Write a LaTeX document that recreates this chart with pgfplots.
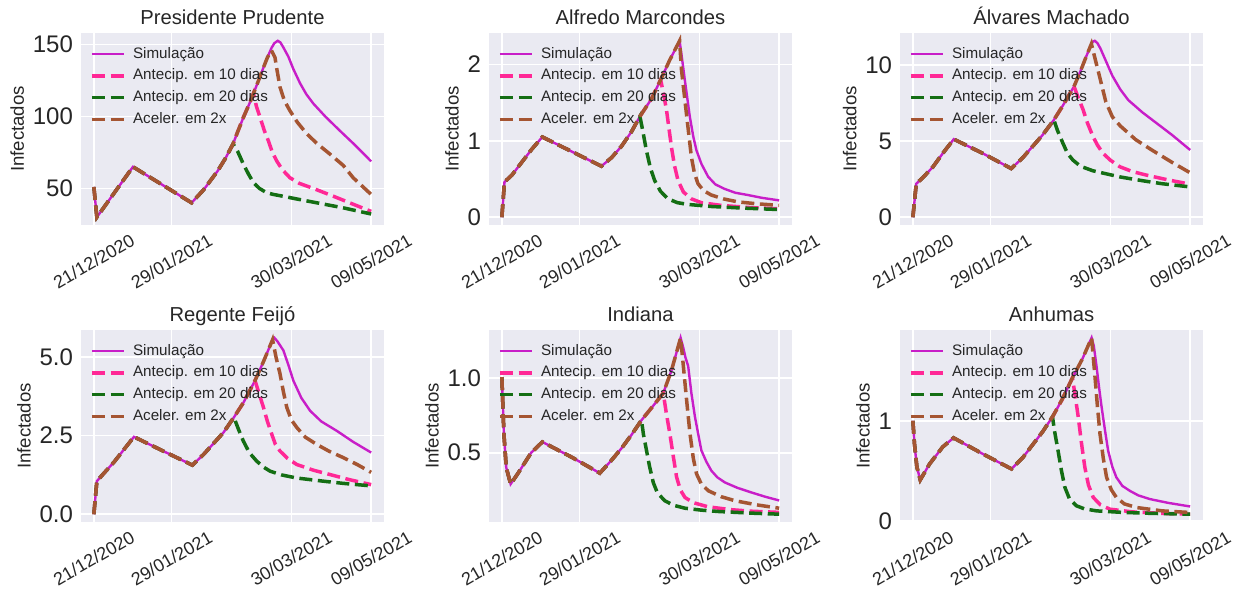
\documentclass[border=0pt]{standalone}
\usepackage{fontspec}
\setmainfont{Liberation Sans}
\usepackage{graphicx}
\usepackage{pgfplots}
\pgfplotsset{compat=1.18}

\definecolor{bgc}{HTML}{EAEAF2}
\definecolor{tc}{HTML}{262626}
\definecolor{simc}{RGB}{200,30,200}
\definecolor{pinkc}{RGB}{255,40,150}
\definecolor{greenc}{RGB}{20,110,20}
\definecolor{brownc}{RGB}{165,85,50}

\pgfplotsset{
  every axis title shift=0pt,
  panel/.style={
    scale only axis, width=152.5pt, height=97pt,
    anchor=north west,
    xmin=-6.95, xmax=145.95, enlarge y limits=0.05,
    xtick={0,39,99,139},
    xticklabels={\rotatebox{30}{21/12/2020},\rotatebox{30}{29/01/2021},\rotatebox{30}{30/03/2021},\rotatebox{30}{09/05/2021}},
    xticklabel style={anchor=north, font=\fontsize{9}{10}\selectfont, text=tc},
    yticklabel style={font=\fontsize{12}{13}\selectfont, text=tc},
    /pgf/number format/assume math mode=true,
    ylabel={Infectados}, ylabel style={font=\fontsize{9.3}{10}\selectfont, text=tc, yshift=-2.5pt},
    title style={font=\fontsize{10.1}{12}\selectfont, text=tc, anchor=base, yshift=3.6pt},
    axis background/.style={fill=bgc},
    grid=major, major grid style={white, line width=0.8pt},
    axis line style={white, line width=0.6pt},
    major tick length=0pt, tick style={draw=none},
    legend style={at={(0.032,0.945)}, anchor=north west, draw=none, fill=none,
      inner sep=0pt, font=\fontsize{7.6}{9}\selectfont, text=tc,
      nodes={text height=5.8pt, text depth=1.7pt, inner sep=1.7pt},
      column sep=2pt},
    legend cell align=left,
    legend image code/.code={\draw[##1] (0pt,0pt) -- (16pt,0pt);},
  },
  sim/.style={simc, line width=1.2pt},
  a10/.style={pinkc, line width=1.75pt, dash pattern=on 6.5pt off 2.8pt},
  a20/.style={greenc, line width=1.75pt, dash pattern=on 6.5pt off 2.8pt},
  acc/.style={brownc, line width=1.75pt, dash pattern=on 6.5pt off 2.8pt},
}

\begin{document}
\begin{tikzpicture}
\path[use as bounding box] (0,0) rectangle (620pt,-296pt);

% Presidente Prudente
\begin{axis}[panel, at={(40pt,-16pt)}, title={Presidente Prudente}, ytick={50,100,150}]
\addplot[sim] coordinates {(0,51) (1.5,30) (19.6,65) (49,40) (55,49) (62,62) (66,71) (69.8,81) (72,89) (75,99.5) (78,109) (80,116) (82,123) (85,134) (87,141) (89,147.5) (90.5,151) (92.2,152.6) (93.5,151.5) (95,148) (97.5,141.6) (100,133) (103.4,123) (106.5,115.5) (110,109) (116,100) (123.4,90) (131,80) (139,68.8)};
\addlegendentry{Simulação}
\addplot[a10] coordinates {(0,51) (1.5,30) (19.6,65) (49,40) (55,49) (62,62) (66,71) (69.8,81) (72,89) (75,99.5) (78,109) (80,116) (81.5,107) (83.3,99.5) (85.5,90) (87.5,83) (89.5,75) (91.7,69) (94.5,63) (98.3,57.4) (103,53.5) (110,50) (120,44.6) (130,39) (139,34)};
\addlegendentry{Antecip. em 10 dias}
\addplot[a20] coordinates {(0,51) (1.5,30) (19.6,65) (49,40) (55,49) (62,62) (66,71) (69.8,81) (72,76) (74.9,67) (77.5,60) (80,54) (83,50) (86.6,47) (90,45.8) (95,44.5) (103,42.3) (111.7,40) (125,36.5) (139,32.2)};
\addlegendentry{Antecip. em 20 dias}
\addplot[acc] coordinates {(0,51) (1.5,30) (19.6,65) (49,40) (55,49) (62,62) (66,71) (69.8,81) (72,89) (75,99.5) (78,109) (80,116) (82,123) (85,134) (87,141) (89,146) (90.8,141) (91.6,134) (93.3,120.5) (95.5,111) (98.3,104) (102,96) (106.7,88) (112,81) (118.4,73.8) (125,66) (130,57.4) (139,45.8)};
\addlegendentry{Aceler. em 2x}
\end{axis}

% Alfredo Marcondes
\begin{axis}[panel, at={(244pt,-16pt)}, title={Alfredo Marcondes}, ytick={0,1,2}]
\addplot[sim] coordinates {(0,0) (1.3,0.46) (5,0.55) (10,0.72) (15,0.89) (20.3,1.05) (35,0.86) (49.9,0.668) (55,0.78) (60,0.93) (65,1.12) (69.2,1.32) (75,1.55) (79.6,1.80) (84,2.05) (89.1,2.31) (90.3,2.08) (91.7,1.80) (94.2,1.32) (96,1.05) (97.5,0.88) (100,0.70) (103.4,0.53) (107,0.43) (111.7,0.37) (117,0.32) (123.4,0.29) (130,0.255) (139,0.22)};
\addlegendentry{Simulação}
\addplot[a10] coordinates {(0,0) (1.3,0.46) (5,0.55) (10,0.72) (15,0.89) (20.3,1.05) (35,0.86) (49.9,0.668) (55,0.78) (60,0.93) (65,1.12) (69.2,1.32) (75,1.55) (79.6,1.80) (81,1.62) (82.5,1.41) (85,0.92) (86.5,0.68) (88.3,0.48) (91,0.33) (95,0.24) (100,0.19) (110,0.154) (125,0.125) (139,0.11)};
\addlegendentry{Antecip. em 10 dias}
\addplot[a20] coordinates {(0,0) (1.3,0.46) (5,0.55) (10,0.72) (15,0.89) (20.3,1.05) (35,0.86) (49.9,0.668) (55,0.78) (60,0.93) (65,1.12) (69.2,1.32) (70.5,1.15) (72.4,0.88) (74.5,0.64) (76.6,0.48) (79.5,0.34) (83.3,0.24) (88,0.19) (93.3,0.167) (105,0.14) (120,0.12) (139,0.10)};
\addlegendentry{Antecip. em 20 dias}
\addplot[acc] coordinates {(0,0) (1.3,0.46) (5,0.55) (10,0.72) (15,0.89) (20.3,1.05) (35,0.86) (49.9,0.668) (55,0.78) (60,0.93) (65,1.12) (69.2,1.32) (75,1.55) (79.6,1.80) (84,2.05) (89.1,2.31) (90,1.94) (92.5,1.36) (95,0.79) (96.5,0.58) (98.3,0.44) (101,0.35) (105,0.29) (111,0.24) (118.4,0.20) (128,0.175) (139,0.155)};
\addlegendentry{Aceler. em 2x}
\end{axis}

% Alvares Machado
\begin{axis}[panel, at={(449.5pt,-16pt)}, title={Álvares Machado}, ytick={0,5,10}]
\addplot[sim] coordinates {(0,0) (1.7,2.2) (5,2.6) (10,3.3) (15,4.2) (20.5,5.13) (35,4.2) (49.3,3.2) (55,3.9) (60,4.65) (65,5.4) (70.7,6.4) (75,7.3) (80.8,8.6) (84,9.6) (87,10.6) (89.5,11.4) (90.3,11.55) (91.2,11.6) (92.5,11.45) (94,11.1) (96,10.5) (98,9.9) (100,9.3) (104,8.4) (108,7.7) (115,6.9) (122,6.2) (130,5.4) (139,4.42)};
\addlegendentry{Simulação}
\addplot[a10] coordinates {(0,0) (1.7,2.2) (5,2.6) (10,3.3) (15,4.2) (20.5,5.13) (35,4.2) (49.3,3.2) (55,3.9) (60,4.65) (65,5.4) (70.7,6.4) (75,7.3) (80.8,8.6) (82.5,8.0) (85.3,7.08) (87.5,6.2) (90.3,5.3) (92.5,4.75) (95.3,4.2) (99,3.75) (103.7,3.32) (110,3.0) (117,2.77) (128,2.45) (139,2.17)};
\addlegendentry{Antecip. em 10 dias}
\addplot[a20] coordinates {(0,0) (1.7,2.2) (5,2.6) (10,3.3) (15,4.2) (20.5,5.13) (35,4.2) (49.3,3.2) (55,3.9) (60,4.65) (65,5.4) (70.7,6.4) (72.5,5.7) (75.2,4.87) (77.5,4.2) (80.2,3.76) (84,3.35) (90.3,3.05) (97,2.85) (103.7,2.65) (115,2.4) (125,2.2) (139,1.99)};
\addlegendentry{Antecip. em 20 dias}
\addplot[acc] coordinates {(0,0) (1.7,2.2) (5,2.6) (10,3.3) (15,4.2) (20.5,5.13) (35,4.2) (49.3,3.2) (55,3.9) (60,4.65) (65,5.4) (70.7,6.4) (75,7.3) (80.8,8.6) (84,9.6) (87,10.6) (89.5,11.4) (91,10.6) (93.5,9.3) (96.7,7.6) (100,6.6) (104,6.0) (111.7,5.1) (120,4.4) (130,3.6) (139,2.92)};
\addlegendentry{Aceler. em 2x}
\end{axis}

% Regente Feijo
\begin{axis}[panel, at={(40pt,-164.5pt)}, title={Regente Feijó}, ytick={0,2.5,5},
  yticklabel style={/pgf/number format/.cd, fixed, fixed zerofill, precision=1}]
\addplot[sim] coordinates {(0,0) (1.5,1.05) (5,1.3) (10,1.65) (15,2.05) (20.1,2.46) (35,2.0) (49.4,1.56) (55,1.9) (60,2.25) (65,2.6) (70.2,3.08) (75,3.55) (80.8,4.25) (85,4.85) (89.6,5.55) (90.5,5.61) (92,5.5) (95,5.21) (97.5,4.75) (100,4.25) (104,3.7) (108.4,3.29) (114,2.95) (121.8,2.65) (130,2.3) (139,1.96)};
\addlegendentry{Simulação}
\addplot[a10] coordinates {(0,0) (1.5,1.05) (5,1.3) (10,1.65) (15,2.05) (20.1,2.46) (35,2.0) (49.4,1.56) (55,1.9) (60,2.25) (65,2.6) (70.2,3.08) (75,3.55) (80.8,4.25) (83,3.8) (85,3.40) (87,2.95) (89.2,2.54) (91,2.22) (93.3,2.01) (97,1.78) (101.7,1.58) (110,1.4) (118.4,1.26) (128,1.1) (139,0.94)};
\addlegendentry{Antecip. em 10 dias}
\addplot[a20] coordinates {(0,0) (1.5,1.05) (5,1.3) (10,1.65) (15,2.05) (20.1,2.46) (35,2.0) (49.4,1.56) (55,1.9) (60,2.25) (65,2.6) (70.2,3.08) (72.5,2.7) (74.9,2.33) (78,1.95) (81.6,1.69) (85,1.5) (88.3,1.37) (94,1.25) (101.7,1.15) (115,1.05) (125,0.98) (139,0.90)};
\addlegendentry{Antecip. em 20 dias}
\addplot[acc] coordinates {(0,0) (1.5,1.05) (5,1.3) (10,1.65) (15,2.05) (20.1,2.46) (35,2.0) (49.4,1.56) (55,1.9) (60,2.25) (65,2.6) (70.2,3.08) (75,3.55) (80.8,4.25) (85,4.85) (89.6,5.55) (91.3,5.0) (93.3,4.47) (95,3.9) (96.7,3.40) (99,3.0) (101.7,2.76) (106,2.45) (111.7,2.22) (118,2.0) (125,1.80) (132,1.58) (139,1.33)};
\addlegendentry{Aceler. em 2x}
\end{axis}

% Indiana
\begin{axis}[panel, at={(244pt,-164.5pt)}, title={Indiana}, ytick={0.5,1},
  yticklabel style={/pgf/number format/.cd, fixed, fixed zerofill, precision=1}]
\addplot[sim] coordinates {(0,1.007) (1,0.63) (2.2,0.40) (4.4,0.29) (8,0.36) (14.7,0.50) (20.3,0.572) (35,0.47) (49.1,0.363) (55,0.45) (60,0.53) (65,0.62) (70,0.718) (75,0.80) (80.9,0.899) (85,1.05) (89.6,1.27) (91,1.2) (92,1.14) (93.4,1.08) (95,0.90) (96.8,0.74) (98.5,0.62) (100,0.516) (102.5,0.44) (105,0.38) (108,0.335) (111.9,0.30) (118,0.265) (125,0.234) (132,0.205) (139,0.18)};
\addlegendentry{Simulação}
\addplot[a10] coordinates {(0,1.007) (1,0.63) (2.2,0.40) (4.4,0.29) (8,0.36) (14.7,0.50) (20.3,0.572) (35,0.47) (49.1,0.363) (55,0.45) (60,0.53) (65,0.62) (70,0.718) (75,0.80) (80.9,0.899) (82.5,0.76) (84.2,0.628) (86,0.47) (87.6,0.336) (89.5,0.25) (91.8,0.20) (96,0.165) (103.5,0.137) (115,0.118) (125,0.108) (139,0.10)};
\addlegendentry{Antecip. em 10 dias}
\addplot[a20] coordinates {(0,1.007) (1,0.63) (2.2,0.40) (4.4,0.29) (8,0.36) (14.7,0.50) (20.3,0.572) (35,0.47) (49.1,0.363) (55,0.45) (60,0.53) (65,0.62) (70,0.718) (71,0.62) (72.5,0.516) (74,0.41) (75.9,0.30) (78,0.23) (81.7,0.178) (86,0.148) (91.8,0.128) (100,0.115) (108.5,0.106) (125,0.095) (139,0.088)};
\addlegendentry{Antecip. em 20 dias}
\addplot[acc] coordinates {(0,1.007) (1,0.63) (2.2,0.40) (4.4,0.29) (8,0.36) (14.7,0.50) (20.3,0.572) (35,0.47) (49.1,0.363) (55,0.45) (60,0.53) (65,0.62) (70,0.718) (75,0.80) (80.9,0.899) (85,1.05) (89.6,1.27) (90.7,1.12) (91.8,0.966) (93,0.80) (94.3,0.628) (96,0.46) (97.6,0.358) (100,0.29) (103.5,0.245) (110,0.205) (116.9,0.178) (128,0.15) (139,0.128)};
\addlegendentry{Aceler. em 2x}
\end{axis}

% Anhumas
\begin{axis}[panel, at={(449.5pt,-164.5pt)}, title={Anhumas}, ytick={0,1}]
\addplot[sim] coordinates {(0,1.0) (0.8,0.77) (2,0.54) (3.7,0.41) (8.4,0.57) (15,0.74) (20.4,0.83) (35,0.67) (49.4,0.52) (55,0.63) (60,0.76) (65,0.89) (70,1.04) (75,1.22) (80,1.43) (85,1.62) (89.6,1.83) (90.7,1.75) (92.1,1.54) (93.3,1.34) (94.6,1.14) (96.2,0.92) (97.9,0.70) (100,0.54) (102,0.436) (105,0.35) (108.8,0.30) (113,0.255) (118.8,0.218) (128,0.18) (139,0.144)};
\addlegendentry{Simulação}
\addplot[a10] coordinates {(0,1.0) (0.8,0.77) (2,0.54) (3.7,0.41) (8.4,0.57) (15,0.74) (20.4,0.83) (35,0.67) (49.4,0.52) (55,0.63) (60,0.76) (65,0.89) (70,1.04) (75,1.22) (80,1.43) (81.5,1.23) (82.9,1.04) (84.5,0.78) (86.2,0.537) (88,0.36) (90.4,0.235) (94,0.16) (98.8,0.117) (110,0.09) (125,0.075) (139,0.067)};
\addlegendentry{Antecip. em 10 dias}
\addplot[a20] coordinates {(0,1.0) (0.8,0.77) (2,0.54) (3.7,0.41) (8.4,0.57) (15,0.74) (20.4,0.83) (35,0.67) (49.4,0.52) (55,0.63) (60,0.76) (65,0.89) (70,1.04) (71,0.90) (72.8,0.70) (74.5,0.50) (76.2,0.336) (78.5,0.22) (82,0.151) (86,0.12) (92.1,0.10) (105,0.085) (120,0.075) (139,0.067)};
\addlegendentry{Antecip. em 20 dias}
\addplot[acc] coordinates {(0,1.0) (0.8,0.77) (2,0.54) (3.7,0.41) (8.4,0.57) (15,0.74) (20.4,0.83) (35,0.67) (49.4,0.52) (55,0.63) (60,0.76) (65,0.89) (70,1.04) (75,1.22) (80,1.43) (85,1.62) (89.6,1.83) (90.5,1.62) (91.3,1.44) (92.5,1.15) (93.8,0.87) (95.5,0.62) (97.1,0.436) (99.5,0.31) (102,0.235) (106,0.17) (112,0.134) (125,0.1) (139,0.084)};
\addlegendentry{Aceler. em 2x}
\end{axis}
\end{tikzpicture}
\end{document}
